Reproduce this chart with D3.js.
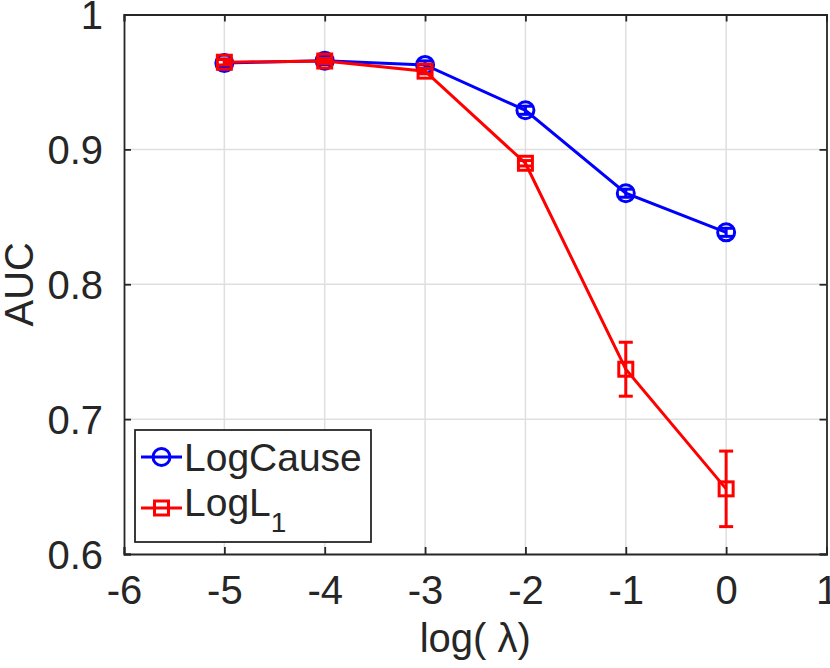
<!DOCTYPE html>
<html><head><meta charset="utf-8">
<script src="https://cdn.jsdelivr.net/npm/d3@7"></script>
<style>body{margin:0;background:#fff}svg{display:block}text{font-family:"Liberation Sans",Arial,sans-serif;fill:#262626}</style>
</head><body><svg id="c" width="830" height="668"></svg>
<script>
const xVals = [-5, -4, -3, -2, -1, 0];
const logCause = [0.964, 0.9658, 0.9626, 0.929, 0.8675, 0.8385];
const logCauseErr = [0.003, 0.003, 0.003, 0.003, 0.003, 0.003];
const logL1 = [0.9646, 0.9655, 0.958, 0.8897, 0.737, 0.6483];
const logL1Err = [0.002, 0.002, 0.002, 0.002, 0.020, 0.028];
const xTicks = [-6, -5, -4, -3, -2, -1, 0, 1];
const yTicks = [0.6, 0.7, 0.8, 0.9, 1];

const svg = d3.select("#c");
const L = 124, R = 826.5, T = 14.5, B = 554;
const x = d3.scaleLinear().domain([-6, 1]).range([L, R]);
const y = d3.scaleLinear().domain([0.6, 1]).range([B, T]);
const axisColor = "#262626";

// grid
svg.append("g").selectAll("line").data(xTicks.slice(1, -1)).join("line")
  .attr("x1", d => x(d)).attr("x2", d => x(d)).attr("y1", T).attr("y2", B)
  .attr("stroke", "#dfdfdf").attr("stroke-width", 1.5);
svg.append("g").selectAll("line").data(yTicks.slice(1, -1)).join("line")
  .attr("y1", d => y(d)).attr("y2", d => y(d)).attr("x1", L).attr("x2", R)
  .attr("stroke", "#dfdfdf").attr("stroke-width", 1.5);

// axes with inner ticks
const tl = 7;
const fmt = d => (d === 1 ? "1" : d3.format(".1f")(d));
const gB = svg.append("g").attr("transform", `translate(0,${B})`)
  .call(d3.axisBottom(x).tickValues(xTicks).tickSize(-tl).tickPadding(20).tickFormat(d3.format("d")));
const gT = svg.append("g").attr("transform", `translate(0,${T})`)
  .call(d3.axisTop(x).tickValues(xTicks).tickSize(-tl).tickFormat(""));
const gL = svg.append("g").attr("transform", `translate(${L},0)`)
  .call(d3.axisLeft(y).tickValues(yTicks).tickSize(-tl).tickPadding(20).tickFormat(d => d === 1 ? "1" : d3.format(".1f")(d)));
const gR = svg.append("g").attr("transform", `translate(${R},0)`)
  .call(d3.axisRight(y).tickValues(yTicks).tickSize(-tl).tickFormat(""));
[gB, gT, gL, gR].forEach(g => {
  g.select(".domain").attr("stroke", axisColor).attr("stroke-width", 1.8);
  g.selectAll(".tick line").attr("stroke", axisColor).attr("stroke-width", 1.8);
  g.selectAll(".tick text").attr("font-size", 40).attr("fill", axisColor)
   .style("font-family", '"Liberation Sans",Arial,sans-serif');
});
gB.selectAll(".tick text").attr("dy", "0.71em").attr("y", 22);
gL.selectAll(".tick text").attr("x", -21).attr("dy", "0.36em");
// replace minus sign with hyphen look
gB.selectAll(".tick text").text(d => String(d).replace("\u2212", "-"));

// axis labels
svg.append("text").attr("x", x(-2.5)).attr("y", 652).attr("text-anchor", "middle")
  .attr("font-size", 40).text("log( λ)");
svg.append("text").attr("transform", `translate(33,${y(0.8)}) rotate(-90)`)
  .attr("text-anchor", "middle").attr("font-size", 40).text("AUC");

// series
function drawSeries(vals, errs, color, marker) {
  const g = svg.append("g");
  g.append("path").datum(vals.map((v, i) => [xVals[i], v]))
    .attr("d", d3.line().x(d => x(d[0])).y(d => y(d[1])))
    .attr("fill", "none").attr("stroke", color).attr("stroke-width", 3);
  const cap = 7;
  vals.forEach((v, i) => {
    const cx = x(xVals[i]);
    const y1 = y(v + errs[i]), y2 = y(v - errs[i]);
    g.append("line").attr("x1", cx).attr("x2", cx).attr("y1", y1).attr("y2", y2)
      .attr("stroke", color).attr("stroke-width", 3);
    [y1, y2].forEach(yy => g.append("line").attr("x1", cx - cap).attr("x2", cx + cap)
      .attr("y1", yy).attr("y2", yy).attr("stroke", color).attr("stroke-width", 3));
    if (marker === "circle") {
      g.append("circle").attr("cx", cx).attr("cy", y(v)).attr("r", 8.5)
        .attr("fill", "none").attr("stroke", color).attr("stroke-width", 3);
    } else {
      g.append("rect").attr("x", cx - 7).attr("y", y(v) - 7).attr("width", 14).attr("height", 14)
        .attr("fill", "none").attr("stroke", color).attr("stroke-width", 3);
    }
  });
}
drawSeries(logCause, logCauseErr, "#0000ff", "circle");
drawSeries(logL1, logL1Err, "#ff0000", "square");

// legend
const lg = svg.append("g");
lg.append("rect").attr("x", 135).attr("y", 430).attr("width", 236).attr("height", 112)
  .attr("fill", "#fff").attr("stroke", axisColor).attr("stroke-width", 1.8);
lg.append("line").attr("x1", 141).attr("x2", 182).attr("y1", 457).attr("y2", 457)
  .attr("stroke", "#0000ff").attr("stroke-width", 3);
lg.append("circle").attr("cx", 161.5).attr("cy", 457).attr("r", 8.5)
  .attr("fill", "none").attr("stroke", "#0000ff").attr("stroke-width", 3);
lg.append("text").attr("x", 184).attr("y", 471).attr("font-size", 39).attr("fill", "#000").text("LogCause");
lg.append("line").attr("x1", 141).attr("x2", 182).attr("y1", 508).attr("y2", 508)
  .attr("stroke", "#ff0000").attr("stroke-width", 3);
lg.append("rect").attr("x", 154.5).attr("y", 501).attr("width", 14).attr("height", 14)
  .attr("fill", "none").attr("stroke", "#ff0000").attr("stroke-width", 3);
const t2 = lg.append("text").attr("x", 184).attr("y", 516).attr("font-size", 39).attr("fill", "#000");
t2.append("tspan").text("LogL");
t2.append("tspan").attr("font-size", 28).attr("dy", 16).text("1");
</script></body></html>
